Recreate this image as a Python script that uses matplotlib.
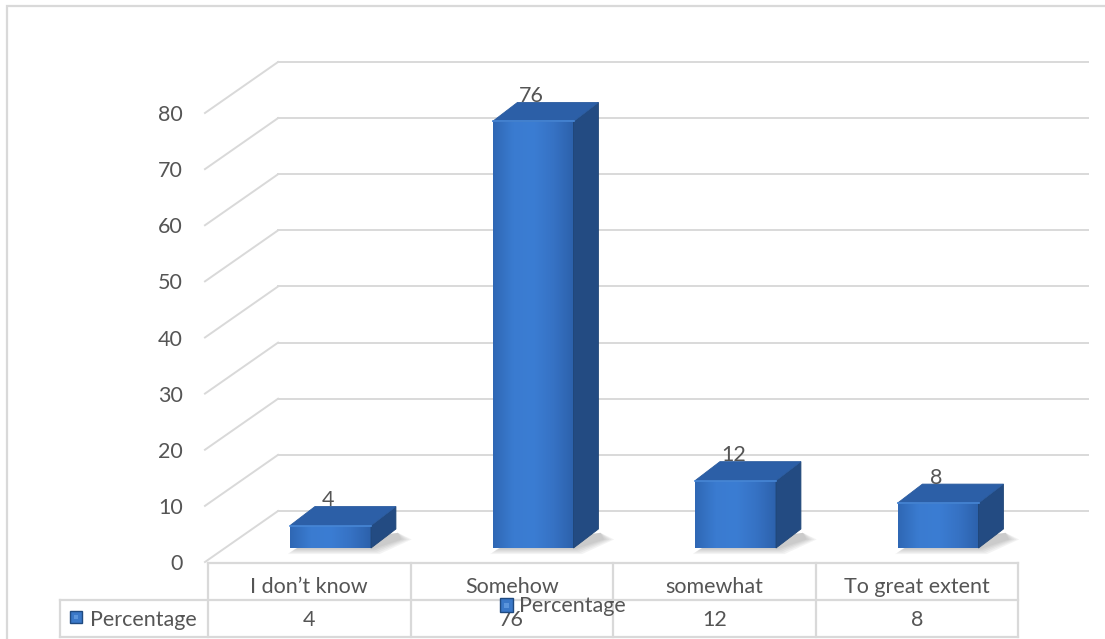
import matplotlib
matplotlib.use("Agg")
import matplotlib.pyplot as plt
import numpy as np
from matplotlib.patches import Polygon, Rectangle
from matplotlib.colors import LinearSegmentedColormap
from matplotlib.lines import Line2D

# ---- data -------------------------------------------------------------
categories = ["I don\u2019t know", "Somehow", "somewhat", "To great extent"]
percentages = [4, 76, 12, 8]
series_name = "Percentage"
y_ticks = [0, 10, 20, 30, 40, 50, 60, 70, 80]

# ---- style ------------------------------------------------------------
plt.rcParams["font.family"] = ["Lato", "DejaVu Sans"]
TXT = "#555555"
GRID = "#d9d9d9"
FS = 15.5

W, H = 1105, 639
fig = plt.figure(figsize=(W / 100, H / 100), dpi=100)
fig.patch.set_facecolor("white")

# outer chart border (left and top edges visible)
fig.patches.append(Rectangle((7 / W, -0.2), 1.2, 1.2 - 6 / H,
                             transform=fig.transFigure, fill=False,
                             edgecolor=GRID, lw=1.6, zorder=0))

# plot area = front plane of the 3-D box
ax = fig.add_axes([208 / W, (H - 562) / H, 810 / W, 449 / H])
ax.set_xlim(-0.5, len(categories) - 0.5)
ax.set_ylim(0, 80)
for s in ax.spines.values():
    s.set_visible(False)
ax.set_xticks([])
ax.set_yticks(y_ticks)
ax.tick_params(axis="y", length=0, pad=18, labelsize=FS, labelcolor=TXT)
ax.patch.set_alpha(0)

# oblique depth of the box (category units, value units)
DX, DY = 0.346, 9.09
n = len(categories)
xl, xr = -0.5, n - 0.5

# walls: left-side diagonals and back-wall gridlines
for v in y_ticks:
    ax.add_line(Line2D([xl - 0.015, xl + DX], [v, v + DY], color=GRID,
                       lw=1.4, clip_on=False, zorder=1))
    ax.add_line(Line2D([xl + DX, xr + DX], [v + DY, v + DY], color=GRID,
                       lw=1.4, clip_on=False, zorder=1))

# ---- 3-D bars -----------------------------------------------------------
BW = 0.40            # bar width
FX, FY = 0.105, 2.49  # front-face offset into the depth
BX, BY = 0.123, 3.39  # bar depth

front_cmap = LinearSegmentedColormap.from_list(
    "front", ["#2f67b4", "#3a7bd0", "#3b7dd3", "#3672c4", "#2c61ab"])
grad = np.linspace(0, 1, 256).reshape(1, -1)

for i, h in enumerate(percentages):
    x0 = i - BW / 2 + FX
    x1 = i + BW / 2 + FX
    y0, y1 = FY, FY + h

    # soft floor shadow, hugging the base of the bar
    for k in range(5):
        e = k * 0.008
        ax.add_patch(Polygon([(x0 + 0.02 - e, y0 - 0.2 - k * 0.22),
                              (x1 + 0.01 + e, y0 - 0.2 - k * 0.22),
                              (x1 + BX + 0.03 + e * 1.5, y0 + BY * 0.45),
                              (x1 + BX + 0.01, y0 + BY * 0.8),
                              (x0 + 0.05, y0 + 0.3)],
                             closed=True, facecolor="#404040",
                             edgecolor="none", alpha=0.06,
                             clip_on=False, zorder=2))

    # front face with horizontal shading
    ax.imshow(grad, cmap=front_cmap, extent=(x0, x1, y0, y1),
              aspect="auto", interpolation="bicubic", zorder=4,
              clip_on=False)
    # right side face
    ax.add_patch(Polygon([(x1, y0), (x1 + BX, y0 + BY), (x1 + BX, y1 + BY),
                          (x1, y1)], closed=True, facecolor="#234b82",
                         edgecolor="#1f4576", lw=0.6, clip_on=False,
                         zorder=4))
    # top face
    ax.add_patch(Polygon([(x0, y1), (x1, y1), (x1 + BX, y1 + BY),
                          (x0 + BX, y1 + BY)], closed=True,
                         facecolor="#2c5fa7", edgecolor="#2a5b9f", lw=0.6,
                         clip_on=False, zorder=4))
    # bevel highlight along the front top edge
    ax.add_line(Line2D([x0, x1], [y1, y1], color="#4787d6", lw=1.2,
                       clip_on=False, zorder=5))

    # data label
    ax.text(i + FX - 0.01, y1 + BY + 0.1, str(h), ha="center",
            va="baseline", fontsize=FS, color=TXT, zorder=6, clip_on=False)

# ---- data table ---------------------------------------------------------
r0, r1, r2 = -0.18, -6.77, -13.36   # row boundaries
hx = -1.231                          # left edge of header column
tl = dict(color=GRID, lw=1.6, clip_on=False, zorder=3)
ax.add_line(Line2D([xl, xr], [r0, r0], **tl))
ax.add_line(Line2D([hx, xr], [r1, r1], **tl))
ax.add_line(Line2D([hx, xr], [r2, r2], **tl))
ax.add_line(Line2D([hx, hx], [r1, r2], **tl))
for b in np.arange(n + 1) - 0.5:
    ax.add_line(Line2D([b, b], [r0, r2], **tl))

cat_y = (r0 + r1) / 2 - 0.9
val_y = (r1 + r2) / 2 - 0.3
for i, (c, v) in enumerate(zip(categories, percentages)):
    ax.text(i, cat_y, c, ha="center", va="center", fontsize=FS,
            color=TXT, clip_on=False)
    ax.text(i, val_y, str(v), ha="center", va="center",
            fontsize=FS, color=TXT, clip_on=False)


def legend_key(xk, yk, wk, hk):
    ax.add_patch(Rectangle((xk, yk), wk, hk, facecolor="#3a78c8",
                           edgecolor="#1f4a80", lw=1.0, clip_on=False,
                           zorder=7))
    ax.add_patch(Rectangle((xk + wk * 0.3, yk + hk * 0.3), wk * 0.4,
                           hk * 0.4, facecolor="#5b95dc",
                           edgecolor="none", clip_on=False, zorder=7))


# series name in the header cell
legend_key(-1.181, -10.87, 0.059, 2.1)
ax.text(-1.085, val_y, series_name, ha="left", va="center",
        fontsize=FS, color=TXT, clip_on=False)

# chart legend
legend_key(0.942, -8.9, 0.064, 2.4)
ax.text(1.036, -7.8, series_name, ha="left", va="center", fontsize=FS,
        color=TXT, clip_on=False, zorder=7)

fig.savefig("out.png", dpi=100, facecolor="white")
